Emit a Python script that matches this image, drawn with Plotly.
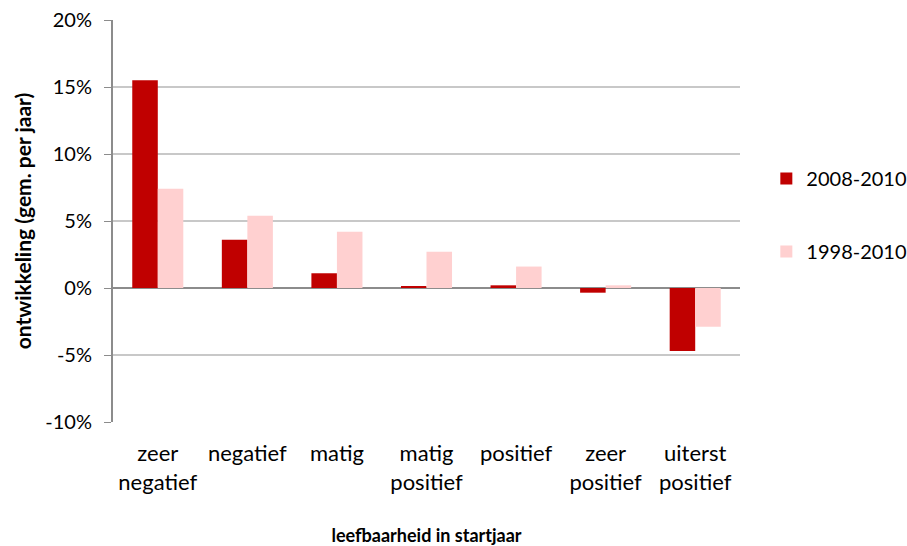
import plotly.graph_objects as go

categories = ["zeer<br>negatief", "negatief", "matig", "matig<br>positief",
              "positief", "zeer<br>positief", "uiterst<br>positief"]
series_2008_2010 = [15.5, 3.6, 1.1, 0.15, 0.2, -0.35, -4.7]
series_1998_2010 = [7.4, 5.4, 4.2, 2.7, 1.6, 0.2, -2.9]
tick_values = [-10, -5, 0, 5, 10, 15, 20]
tick_labels = ["-10%", "-5%", "0%", "5%", "10%", "15%", "20%"]

FONT = "Lato, Open Sans, sans-serif"

fig = go.Figure()
fig.add_trace(go.Bar(x=categories, y=series_2008_2010, name="2008-2010",
                     marker=dict(color="#C00000", line=dict(width=0)),
                     legendgroup="a"))
fig.add_trace(go.Bar(x=categories, y=series_1998_2010, name="1998-2010",
                     marker=dict(color="#FFD0D0", line=dict(width=0)),
                     legendgroup="b"))

fig.update_layout(
    width=907, height=546,
    margin=dict(l=113, r=167, t=20, b=124, autoexpand=False),
    paper_bgcolor="white", plot_bgcolor="white",
    barmode="group", bargap=0.43, bargroupgap=0,
    font=dict(family=FONT, size=20, color="#000000"),
    legend=dict(x=1.042, y=0.515, xanchor="left", yanchor="middle",
                tracegroupgap=44, font=dict(size=20), itemwidth=30),
    xaxis=dict(showline=False, ticks="", tickfont=dict(size=22),
               ticklabelstandoff=16,
               title=dict(text="<b>leefbaarheid in startjaar</b>",
                          font=dict(size=18), standoff=40)),
    yaxis=dict(range=[-10, 20], tickvals=tick_values, ticktext=tick_labels,
               showgrid=True, gridcolor="#C8C8C8", gridwidth=1.5,
               zeroline=True, zerolinecolor="#8C8C8C", zerolinewidth=2,
               showline=True, linecolor="#8C8C8C", linewidth=2,
               ticks="outside", ticklen=7, tickcolor="#8C8C8C",
               tickfont=dict(size=20), ticklabelstandoff=8,
               title=dict(text="<b>ontwikkeling (gem. per jaar)</b>",
                          font=dict(size=21), standoff=8)),
)

fig.write_html("out.html")
